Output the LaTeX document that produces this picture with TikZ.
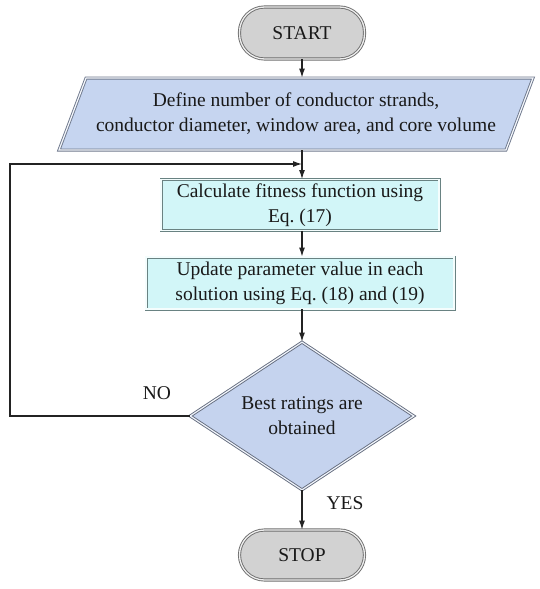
\documentclass[tikz,border=0pt]{standalone}
\usepackage{fontspec}
\setmainfont{Liberation Serif}
\usetikzlibrary{shapes.geometric,arrows.meta}

\definecolor{pillfill}{RGB}{210,210,210}
\definecolor{pillline}{RGB}{110,110,110}
\definecolor{iofill}{RGB}{198,213,240}
\definecolor{ioline}{RGB}{110,120,140}
\definecolor{procfill}{RGB}{210,246,248}
\definecolor{procline}{RGB}{105,130,130}
\definecolor{decfill}{RGB}{197,211,238}
\definecolor{decline}{RGB}{100,108,126}
\definecolor{flowline}{RGB}{35,35,35}

\begin{document}
\begin{tikzpicture}[x=1pt, y=-1pt, >={Latex[length=9pt,width=6pt]}]
      \tikzstyle{every node}=[font=\fontsize{19.5}{25}\selectfont, align=center, text=black!90]
      \tikzstyle{terminal}=[draw=pillline, line width=0.9pt, double=white!88!pillline,
        double distance=1.3pt, fill=pillfill, rounded corners=25pt,
        minimum width=125pt, minimum height=52pt]
      \tikzstyle{io}=[trapezium, trapezium left angle=67, trapezium right angle=113,
        trapezium stretches body=true, draw=ioline, line width=0.9pt,
        double=white!80!iofill, double distance=1.2pt, fill=iofill,
        inner xsep=2pt, inner ysep=11pt, minimum width=474pt, minimum height=72pt]
      \tikzstyle{process}=[rectangle, draw=procline, line width=0.9pt,
        double=white!75!procfill, double distance=1.2pt, fill=procfill, inner sep=0pt]
      \tikzstyle{decision}=[diamond, draw=decline, line width=0.9pt,
        double=white!75!decfill, double distance=1.2pt, fill=decfill, aspect=1.5,
        inner sep=0pt, minimum width=224pt, minimum height=148pt]
      \tikzstyle{flow}=[draw=flowline, line width=1.1pt]

      \useasboundingbox (0, 0) rectangle (540, 589);

      \path (302, 33) node[terminal] (start) {START};
      \path (296, 114) node[io] (define)
        {Define number of conductor strands,\\conductor diameter, window area, and core volume};
      \path (300, 205) node[process, minimum width=278pt, minimum height=51pt] (fitness)
        {Calculate fitness function using\\Eq.~(17)};
      \path (300, 283) node[process, minimum width=308pt, minimum height=52pt] (update)
        {Update parameter value in each\\solution using Eq.~(18) and (19)};
      \path (302, 416) node[decision] (check) {Best ratings are\\obtained};
      \path (302, 555) node[terminal, minimum height=50pt] (stop) {STOP};
      \path (157, 393) node (no) {NO};
      \path (345, 503) node (yes) {YES};

      \coordinate (corner) at (10, 416);
      \coordinate (merge) at (302, 164);

      \draw [flow, ->]
        (start.south) -- (start.south |- define.north);
      \draw [flow, ->]
        (define.south -| start) -- (fitness.north -| start);
      \draw [flow, ->]
        (fitness.south -| start) -- (update.north -| start);
      \draw [flow, ->]
        (update.south -| start) -- (check.north);
      \draw [flow, ->]
        (check.south) -- (stop.north);
      \draw [flow, ->]
        (check.west) -- (corner) |- (merge);
\end{tikzpicture}
\end{document}
